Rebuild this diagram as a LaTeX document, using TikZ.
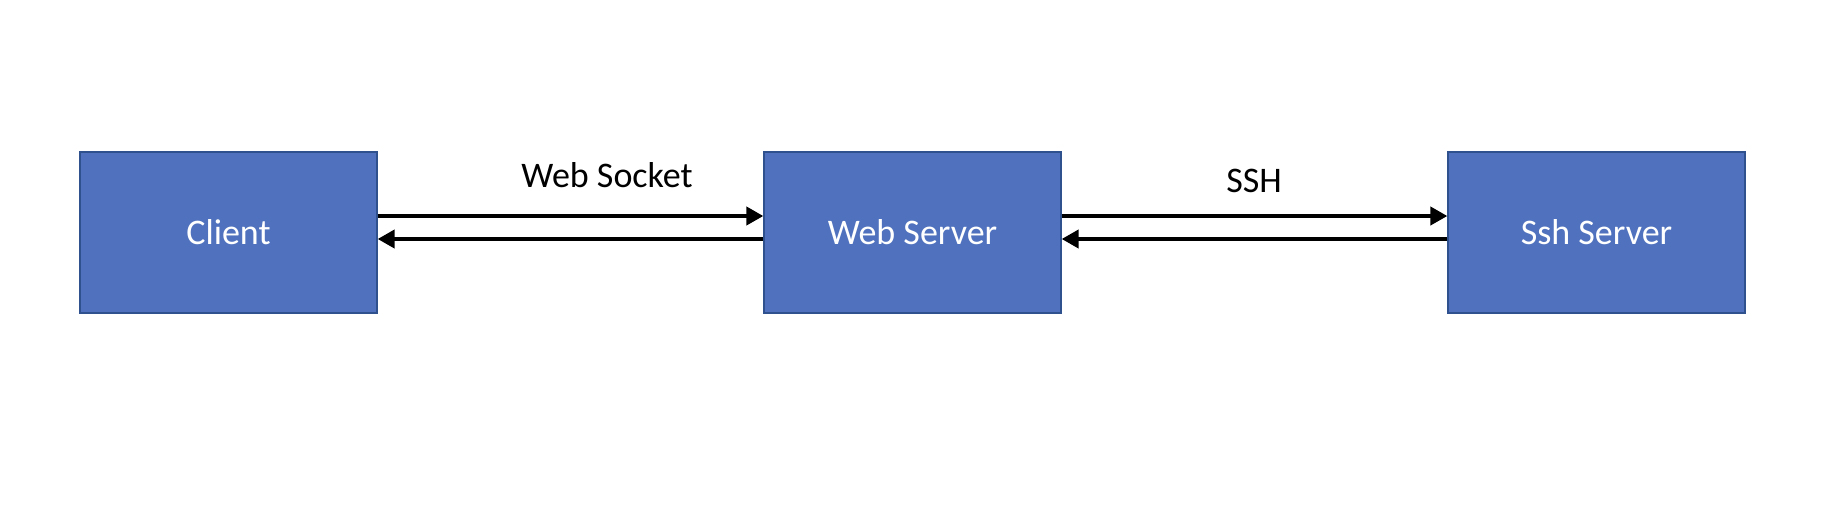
\documentclass[tikz,border=0pt]{standalone}
\usepackage{fontspec}
\setmainfont{Carlito}
\usetikzlibrary{arrows.meta, positioning, calc}
\definecolor{boxfill}{HTML}{5072BE}
\definecolor{boxline}{HTML}{2F528F}

\begin{document}
\begin{tikzpicture}[>={Triangle[length=17pt, width=18pt]}, x=1pt, y=1pt,
    serveur/.style={rectangle, draw=boxline, line width=1.3pt, fill=boxfill,
      minimum width=297pt, minimum height=161pt, text=white,
      font=\fontsize{36}{43}\selectfont},
    lien/.style={->, line width=4pt},
    etiquette/.style={anchor=base, inner sep=0pt, font=\fontsize{36}{43}\selectfont}]
  \useasboundingbox (0,0) rectangle (1846,-520);

  \node[serveur] (C) at (228.5,-232.5) {Client};
  \node[serveur] (W) at (912.5,-232.5) {Web Server};
  \node[serveur] (S) at (1596.5,-232.5) {Ssh Server};

  \draw[lien] ([yshift=16.5pt]C.east) -- ([yshift=16.5pt]W.west);
  \draw[lien] ([yshift=-6.5pt]W.west) -- ([yshift=-6.5pt]C.east);
  \draw[lien] ([yshift=16.5pt]W.east) -- ([yshift=16.5pt]S.west);
  \draw[lien] ([yshift=-6.5pt]S.west) -- ([yshift=-6.5pt]W.east);

  \node[etiquette] (ws) at (607,-187) {Web Socket};
  \node[etiquette] (ssh) at (1254,-192) {SSH};
\end{tikzpicture}
\end{document}
